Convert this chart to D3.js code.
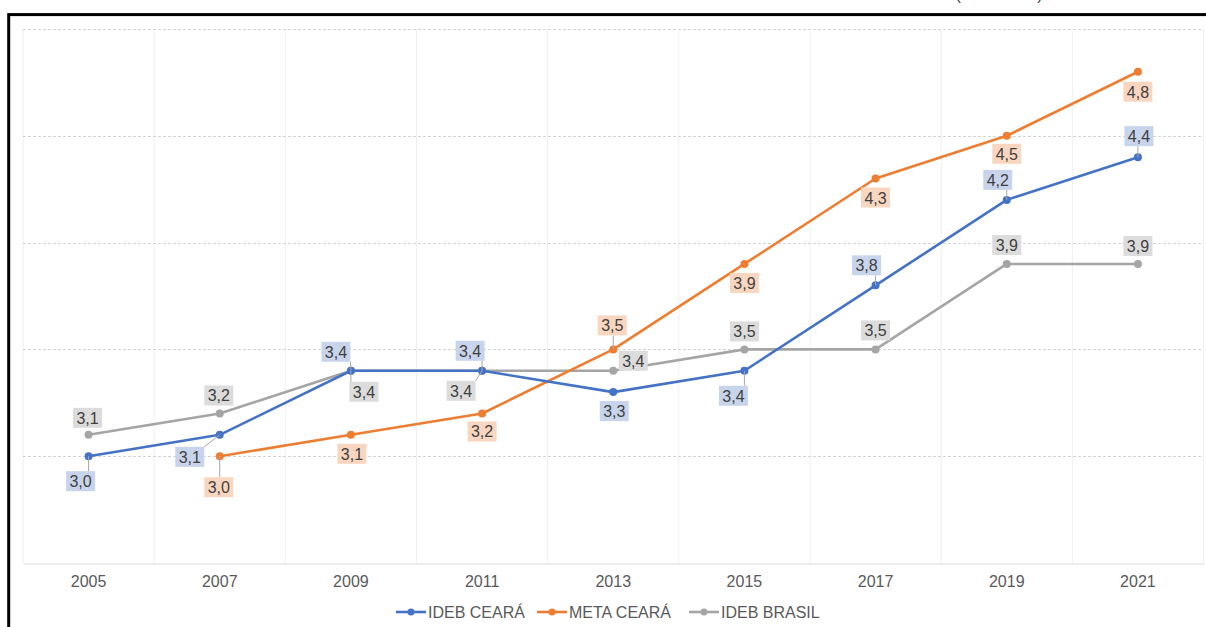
<!DOCTYPE html>
<html>
<head>
<meta charset="utf-8">
<script src="https://cdn.jsdelivr.net/npm/d3@7"></script>
<style>
  html, body { margin: 0; padding: 0; background: #ffffff; }
  svg { display: block; font-family: "Liberation Sans", Arial, sans-serif; }
</style>
</head>
<body>
<svg id="chart" width="1206" height="627"></svg>
<script>
// ---- data ----
const years = ["2005", "2007", "2009", "2011", "2013", "2015", "2017", "2019", "2021"];
const idebCeara  = [3.0, 3.1, 3.4, 3.4, 3.3, 3.4, 3.8, 4.2, 4.4];
const metaCeara  = [null, 3.0, 3.1, 3.2, 3.5, 3.9, 4.3, 4.5, 4.8];
const idebBrasil = [3.1, 3.2, 3.4, 3.4, 3.4, 3.5, 3.5, 3.9, 3.9];
const seriesNames = ["IDEB CEARÁ", "META CEARÁ", "IDEB BRASIL"];
const yTicks = [2.5, 3.0, 3.5, 4.0, 4.5, 5.0];
const titleText = "(2005-2021)";

// ---- label placement (layout only): [dx, dy, leader] per point ----
const ideLabelPos = [[-8,25,1],[-30,22,1],[-15,-19,1],[-12,-20,1],[1,19,0],[-11,25,1],[-9,-20,1],[-9,-20,1],[1,-21,1]];
const metaLabelPos = [null,[-1,31,1],[1,19,0],[0,18,0],[-1,-24,1],[0,19,0],[0,19,0],[0,18,0],[0,20,0]];
const braLabelPos = [[-1,-17,0],[-1,-18,0],[13,21,1],[-21,20,1],[20,-10,1],[0,-18,0],[0,-19,0],[0,-19,0],[0,-18,0]];

const colors = ["#4472c4", "#ed7d31", "#a5a5a5"];
const labelFills = ["#c8d4ec", "#f9d6c0", "#dcdcdc"];

const svg = d3.select("#chart");

// partial title (mostly above the top edge, as in the reference)
svg.append("text").attr("x", 999).attr("y", -0.5).attr("text-anchor", "middle")
  .attr("font-size", 16).attr("fill", "#404040").text(titleText);

// border
svg.append("rect").attr("x", 8.7).attr("y", 14.6).attr("width", 1400).attr("height", 800)
  .attr("fill", "#ffffff").attr("stroke", "#000000").attr("stroke-width", 3);

const x = d3.scaleBand().domain(years).range([23, 1203.5]).padding(0);
const y = d3.scaleLinear().domain([2.5, 5.0]).range([563, 29]);
const cx = d => x(d) + x.bandwidth() / 2;

// vertical gridlines at band boundaries
const bounds = years.map(d => x(d)).concat([x(years[years.length - 1]) + x.bandwidth()]);
svg.append("g").selectAll("line").data(bounds).join("line")
  .attr("x1", d => d).attr("x2", d => d).attr("y1", y(5.0)).attr("y2", y(2.5))
  .attr("stroke", "#f0f0f0").attr("stroke-width", 1);

// horizontal gridlines (dashed)
svg.append("g").selectAll("line").data(yTicks.filter(t => t > 2.5)).join("line")
  .attr("x1", 23).attr("x2", 1203.5).attr("y1", d => Math.round(y(d)) + 0.5).attr("y2", d => Math.round(y(d)) + 0.5)
  .attr("stroke", "#d4d4d4").attr("stroke-width", 1).attr("stroke-dasharray", "3,2");

// x axis
const xAxis = d3.axisBottom(x).tickSize(0).tickPadding(12);
const gx = svg.append("g").attr("transform", `translate(0,${Math.round(y(2.5)) + 0.5})`).call(xAxis);
gx.select(".domain").attr("stroke", "#d9d9d9").attr("stroke-width", 1);
gx.selectAll("text").attr("font-size", 16).attr("fill", "#595959")
  .attr("font-family", "'Liberation Sans', Arial, sans-serif");

const allSeries = [ideLabelPos, metaLabelPos, braLabelPos].map((pos, i) => ({
  name: seriesNames[i],
  color: colors[i],
  fill: labelFills[i],
  values: [idebCeara, metaCeara, idebBrasil][i].map((v, j) => ({ year: years[j], v, pos: pos[j] }))
}));

const line = d3.line().defined(d => d.v != null).x(d => cx(d.year)).y(d => y(d.v));

// draw series in order gray, orange, blue (blue on top)
const drawOrder = [2, 1, 0];
drawOrder.forEach(i => {
  const s = allSeries[i];
  svg.append("path").datum(s.values).attr("d", line)
    .attr("fill", "none").attr("stroke", s.color).attr("stroke-width", 2.6)
    .attr("stroke-linejoin", "round").attr("stroke-linecap", "round");
  svg.append("g").selectAll("circle").data(s.values.filter(d => d.v != null)).join("circle")
    .attr("cx", d => cx(d.year)).attr("cy", d => y(d.v)).attr("r", 4).attr("fill", s.color);
});

// labels
const fmt = v => d3.format(".1f")(v).replace(".", ",");
const bw = 29, bh = 20;
[2, 1, 0].forEach(i => {
  const s = allSeries[i];
  s.values.forEach(d => {
    if (d.v == null || !d.pos) return;
    const px = cx(d.year), py = y(d.v);
    const lx = px + d.pos[0], ly = py + d.pos[1];
    const x0 = lx - bw / 2, y0 = ly - bh / 2;
    if (d.pos[2]) {
      const ex = Math.max(x0, Math.min(px, x0 + bw));
      const ey = Math.max(y0, Math.min(py, y0 + bh));
      svg.append("line").attr("x1", px).attr("y1", py).attr("x2", ex).attr("y2", ey)
        .attr("stroke", "#a6a6a6").attr("stroke-width", 1);
    }
    svg.append("rect").attr("x", x0).attr("y", y0).attr("width", bw).attr("height", bh)
      .attr("fill", s.fill);
    svg.append("text").attr("x", lx).attr("y", ly + 6).attr("text-anchor", "middle")
      .attr("font-size", 16).attr("fill", "#404040").text(fmt(d.v));
  });
});

// legend
const legendItems = [
  { name: seriesNames[0], color: colors[0], x0: 396 },
  { name: seriesNames[1], color: colors[1], x0: 537 },
  { name: seriesNames[2], color: colors[2], x0: 689 }
];
const ly = 612;
const lg = svg.append("g");
legendItems.forEach(it => {
  lg.append("line").attr("x1", it.x0).attr("x2", it.x0 + 30).attr("y1", ly).attr("y2", ly)
    .attr("stroke", it.color).attr("stroke-width", 2.6);
  lg.append("circle").attr("cx", it.x0 + 15).attr("cy", ly).attr("r", 3.5).attr("fill", it.color);
  lg.append("text").attr("x", it.x0 + 32).attr("y", ly + 6).attr("font-size", 16)
    .attr("fill", "#595959").text(it.name);
});
</script>
</body>
</html>
